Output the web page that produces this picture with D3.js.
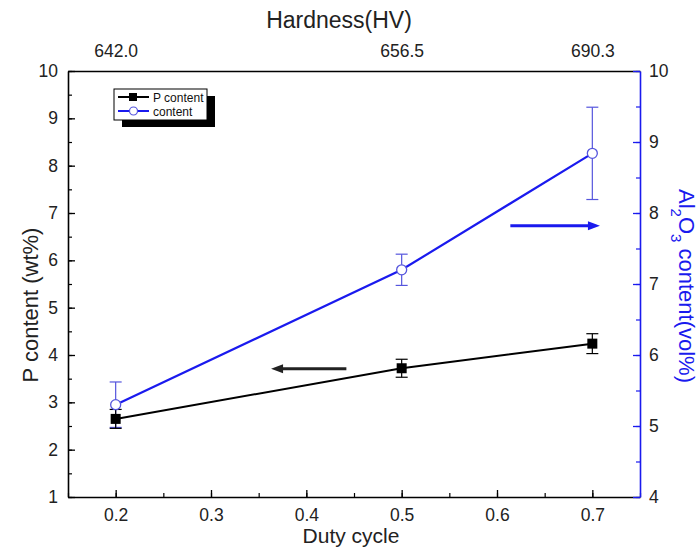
<!DOCTYPE html>
<html>
<head>
<meta charset="utf-8">
<script src="https://cdn.jsdelivr.net/npm/d3@7"></script>
<style>
  html, body { margin: 0; padding: 0; background: #fff; }
  svg { display: block; font-family: "Liberation Sans", Arial, sans-serif; }
</style>
</head>
<body>
<svg id="chart" width="698" height="549"></svg>
<script>
// ---- data ----
const dutyCycle = [0.2, 0.5, 0.7];
const hardnessLabels = ["642.0", "656.5", "690.3"];
const pContent = [2.65, 3.72, 4.24];
const pError = [0.2, 0.19, 0.21];
const al2o3Content = [5.3, 7.2, 8.84];
const al2o3Error = [0.32, 0.22, 0.65];
const xTicks = [0.2, 0.3, 0.4, 0.5, 0.6, 0.7];
const leftTicks = [1, 2, 3, 4, 5, 6, 7, 8, 9, 10];
const rightTicks = [4, 5, 6, 7, 8, 9, 10];
const legendLabels = ["P content", "content"];
// arrows: [x0, x1, y] in data coords (start -> tip)
const pArrow = [0.442, 0.363, 3.71];
const alArrow = [0.614, 0.708, 7.82];

const BLUE = "#1a1aee";
const svg = d3.select("#chart");
const L = 68, R = 640, T = 71, B = 497;

const x = d3.scaleLinear().domain([0.15, 0.75]).range([L, R]);
const yL = d3.scaleLinear().domain([1, 10]).range([B, T]);
const yR = d3.scaleLinear().domain([4, 10]).range([B, T]);

// ---- axes ----
const tickFont = "17.5px";
function styleAxis(g, color) {
  g.selectAll("path.domain").attr("stroke", color).attr("stroke-width", 1.6);
  g.selectAll(".tick line").attr("stroke", color).attr("stroke-width", 1.3);
  g.selectAll(".tick text").attr("fill", "#222").style("font-size", tickFont)
    .style("font-family", "'Liberation Sans', Arial, sans-serif");
}

function minors(domain, step) {
  const out = [];
  for (let v = domain[0]; v <= domain[1] + 1e-9; v += step) out.push(+v.toFixed(4));
  return out;
}

// bottom
const gB = svg.append("g").attr("transform", `translate(0,${B})`);
gB.append("g").call(d3.axisBottom(x).tickValues(minors([0.15, 0.75], 0.05)).tickSize(-4).tickFormat(""))
  .call(g => { g.select("path.domain").remove(); g.selectAll("line").attr("stroke", "#000").attr("stroke-width", 1.2); });
gB.append("g").call(d3.axisBottom(x).tickValues(xTicks).tickSize(-7).tickSizeOuter(0).tickPadding(12).tickFormat(d3.format(".1f")))
  .call(g => styleAxis(g, "#000"));

// top
const gT = svg.append("g").attr("transform", `translate(0,${T})`);
gT.append("g").call(d3.axisTop(x).tickValues(dutyCycle).tickSize(0).tickSizeOuter(0).tickPadding(14)
  .tickFormat((d, i) => hardnessLabels[i]))
  .call(g => styleAxis(g, "#000"));

// left
const gL = svg.append("g").attr("transform", `translate(${L},0)`);
gL.append("g").call(d3.axisLeft(yL).tickValues(minors([1, 10], 0.5)).tickSize(-4).tickFormat(""))
  .call(g => { g.select("path.domain").remove(); g.selectAll("line").attr("stroke", "#000").attr("stroke-width", 1.2); });
gL.append("g").call(d3.axisLeft(yL).tickValues(leftTicks).tickSize(-7).tickSizeOuter(0).tickPadding(10).tickFormat(d3.format("d")))
  .call(g => styleAxis(g, "#000"));

// right
const gR = svg.append("g").attr("transform", `translate(${R},0)`);
gR.append("g").call(d3.axisRight(yR).tickValues(minors([4, 10], 0.5)).tickSize(-4).tickFormat(""))
  .call(g => { g.select("path.domain").remove(); g.selectAll("line").attr("stroke", BLUE).attr("stroke-width", 1.2); });
gR.append("g").call(d3.axisRight(yR).tickValues(rightTicks).tickSize(-7).tickSizeOuter(0).tickPadding(9).tickFormat(d3.format("d")))
  .call(g => styleAxis(g, BLUE));

// ---- axis titles ----
svg.append("text").attr("x", (L + R) / 2 - 15).attr("y", 28).attr("text-anchor", "middle")
  .style("font-size", "23px").attr("fill", "#222").text("Hardness(HV)");
svg.append("text").attr("x", (L + R) / 2 - 3).attr("y", 543).attr("text-anchor", "middle")
  .style("font-size", "21px").attr("fill", "#222").text("Duty cycle");
svg.append("text").attr("transform", `translate(38,${(T + B) / 2 + 21}) rotate(-90)`).attr("text-anchor", "middle")
  .style("font-size", "22px").attr("fill", "#222").text("P content (wt%)");
const rt = svg.append("text").attr("transform", `translate(679,${(T + B) / 2 + 2}) rotate(90)`).attr("text-anchor", "middle")
  .style("font-size", "22px").attr("fill", BLUE);
rt.append("tspan").text("Al");
rt.append("tspan").attr("dy", 8).style("font-size", "15px").text("2");
rt.append("tspan").attr("dy", -8).text("O");
rt.append("tspan").attr("dy", 8).style("font-size", "15px").text("3");
rt.append("tspan").attr("dy", -8).text(" content(vol%)");

// ---- series ----
const pData = dutyCycle.map((d, i) => ({ x: d, y: pContent[i], e: pError[i] }));
const aData = dutyCycle.map((d, i) => ({ x: d, y: al2o3Content[i], e: al2o3Error[i] }));

function errorBars(data, ys, color) {
  const g = svg.append("g").attr("stroke", color).attr("stroke-width", 1.2).attr("fill", "none");
  data.forEach(d => {
    g.append("line").attr("x1", x(d.x)).attr("x2", x(d.x)).attr("y1", ys(d.y - d.e)).attr("y2", ys(d.y + d.e));
    [d.y - d.e, d.y + d.e].forEach(v => g.append("line")
      .attr("x1", x(d.x) - 6).attr("x2", x(d.x) + 6).attr("y1", ys(v)).attr("y2", ys(v)));
  });
}
errorBars(aData, yR, "#5555dd");
errorBars(pData, yL, "#000");

const lineP = d3.line().x(d => x(d.x)).y(d => yL(d.y));
const lineA = d3.line().x(d => x(d.x)).y(d => yR(d.y));
svg.append("path").datum(pData).attr("d", lineP).attr("stroke", "#000").attr("stroke-width", 2).attr("fill", "none");
svg.append("path").datum(aData).attr("d", lineA).attr("stroke", BLUE).attr("stroke-width", 2.2).attr("fill", "none");

svg.append("g").selectAll("rect").data(pData).join("rect")
  .attr("x", d => x(d.x) - 5).attr("y", d => yL(d.y) - 5).attr("width", 10).attr("height", 10).attr("fill", "#000");
svg.append("g").selectAll("circle").data(aData).join("circle")
  .attr("cx", d => x(d.x)).attr("cy", d => yR(d.y)).attr("r", 5)
  .attr("fill", "#fff").attr("stroke", "#5555dd").attr("stroke-width", 1.3);

// ---- arrows ----
function arrow(a, ys, color) {
  const x0 = x(a[0]), x1 = x(a[1]), yy = ys(a[2]);
  const dir = Math.sign(x1 - x0);
  svg.append("line").attr("x1", x0).attr("x2", x1 - dir * 8).attr("y1", yy).attr("y2", yy)
    .attr("stroke", color).attr("stroke-width", 3);
  svg.append("path").attr("d", `M${x1},${yy} L${x1 - dir * 12},${yy - 4.5} L${x1 - dir * 12},${yy + 4.5} Z`).attr("fill", color);
}
arrow(pArrow, yL, "#222");
arrow(alArrow, yR, BLUE);

// ---- legend ----
const lg = svg.append("g").attr("transform", "translate(114,89)");
lg.append("rect").attr("x", 8).attr("y", 7).attr("width", 93).attr("height", 31).attr("fill", "#000");
lg.append("rect").attr("x", 0).attr("y", 0).attr("width", 93).attr("height", 31).attr("fill", "#fff")
  .attr("stroke", "#000").attr("stroke-width", 1);
const legendItems = [
  { label: legendLabels[0], color: "#000", marker: "square" },
  { label: legendLabels[1], color: BLUE, marker: "circle" }
];
legendItems.forEach((it, i) => {
  const yy = 8 + i * 14;
  lg.append("line").attr("x1", 4).attr("x2", 35).attr("y1", yy).attr("y2", yy).attr("stroke", it.color).attr("stroke-width", 2);
  if (it.marker === "square") lg.append("rect").attr("x", 15).attr("y", yy - 4).attr("width", 8).attr("height", 8).attr("fill", "#000");
  else lg.append("circle").attr("cx", 19.5).attr("cy", yy).attr("r", 4).attr("fill", "#fff").attr("stroke", "#5555dd").attr("stroke-width", 1.2);
  lg.append("text").attr("x", 39).attr("y", yy + 4.5).style("font-size", "12px").attr("fill", "#111").text(it.label);
});
</script>
</body>
</html>
